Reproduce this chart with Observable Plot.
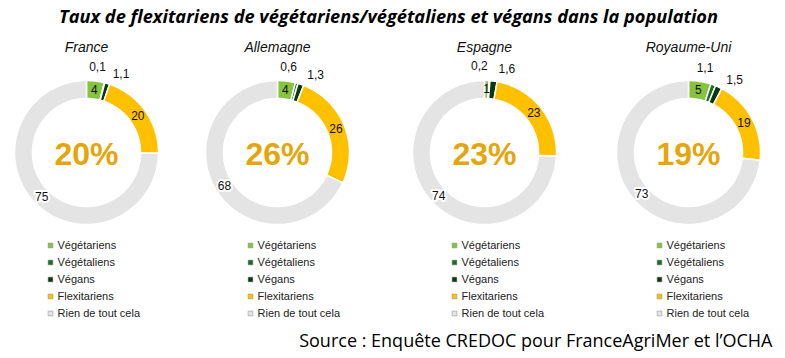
<!DOCTYPE html>
<html><head><meta charset="utf-8">
<script src="https://cdn.jsdelivr.net/npm/d3@7"></script>
<script src="https://cdn.jsdelivr.net/npm/@observablehq/plot@0.6"></script>
<style>body{margin:0;background:#fff;} #chart svg{display:block;}</style>
</head><body><div id="chart"></div>
<script>
// ---- data ----
const countries = ["France", "Allemagne", "Espagne", "Royaume-Uni"];
const categories = ["Végétariens", "Végétaliens", "Végans", "Flexitariens", "Rien de tout cela"];
const vegetariens = [4, 4, 1, 5];
const vegetaliens = [0.1, 0.6, 0.2, 1.1];
const vegans = [1.1, 1.3, 1.6, 1.5];
const flexitariens = [20, 26, 23, 19];
const rien = [75, 68, 74, 73];
const titleText = "Taux de flexitariens de végétariens/végétaliens et végans dans la population";
const sourceText = "Source : Enquête CREDOC pour FranceAgriMer et l\u2019OCHA";

// ---- layout / style ----
const W = 785, H = 358;
const centersX = [86, 277, 484, 688];
const legendX = [57, 257, 461, 666];
const cy = 152, rOut = 72, rIn = 54, rMid = 63, rOutLabel = 86;
const colors = ["#86c440", "#1f6a2a", "#0b3812", "#ffc000", "#e4e4e4"];
const series = [vegetariens, vegetaliens, vegans, flexitariens, rien];
const fmt = v => String(v).replace(".", ",");

const rad = d => d * Math.PI / 180;
const px = (cx, r, a) => cx + r * Math.sin(rad(a));
const py = (r, a) => cy - r * Math.cos(rad(a));

const polys = [], labels = [];
countries.forEach((c, i) => {
  const total = series.reduce((s, arr) => s + arr[i], 0);
  let acc = 0;
  categories.forEach((cat, k) => {
    const v = series[k][i];
    const a0 = acc / total * 360, a1 = (acc + v) / total * 360;
    acc += v;
    const n = Math.max(2, Math.ceil((a1 - a0) / 2));
    const key = c + "|" + cat;
    for (let j = 0; j <= n; j++) { const a = a0 + (a1 - a0) * j / n; polys.push({key, color: colors[k], x: px(centersX[i], rOut, a), y: py(rOut, a)}); }
    for (let j = n; j >= 0; j--) { const a = a0 + (a1 - a0) * j / n; polys.push({key, color: colors[k], x: px(centersX[i], rIn, a), y: py(rIn, a)}); }
    let r = rMid, a = (a0 + a1) / 2;
    if (k === 1) { r = rOutLabel; a = a0 - 7; }
    if (k === 2) { r = rOutLabel; a = a1 + 5; }
    labels.push({x: px(centersX[i], r, a), y: py(r, a), text: fmt(v), halo: k === 4});
  });
});

const centerText = countries.map((c, i) => ({x: centersX[i], y: cy + 2, text: flexitariens[i] + "%"}));
const countryTitles = countries.map((c, i) => ({x: centersX[i], y: 47, text: c}));
const legendRows = [];
countries.forEach((c, i) => categories.forEach((cat, k) => legendRows.push({x: legendX[i], y: 245 + k * 17, text: cat, color: colors[k]})));

const chart = Plot.plot({
  width: W, height: H, margin: 0,
  x: {domain: [0, W], range: [0, W], axis: null},
  y: {domain: [0, H], range: [0, H], axis: null},
  color: {type: "identity"},
  style: {fontFamily: "'Liberation Sans', Arial, sans-serif", background: "#fff"},
  marks: [
    Plot.line(polys, {x: "x", y: "y", z: "key", fill: "color", stroke: "#fff", strokeWidth: 1.5, curve: "linear-closed"}),
    Plot.text(labels.filter(d => d.halo), {x: "x", y: "y", text: "text", fontSize: 12, fill: "#111", stroke: "#fff", strokeWidth: 4}),
    Plot.text(labels.filter(d => !d.halo), {x: "x", y: "y", text: "text", fontSize: 12, fill: "#111"}),
    Plot.text(centerText, {x: "x", y: "y", text: "text", fontSize: 32, fontWeight: "bold", fill: "#e6a50a"}),
    Plot.text(countryTitles, {x: "x", y: "y", text: "text", fontSize: 14, fontStyle: "italic", fill: "#111"}),
    Plot.dot(legendRows, {x: d => d.x - 7, y: "y", symbol: "square", r: 2.7, fill: "color", stroke: "#888", strokeWidth: 0.5}),
    Plot.text(legendRows, {x: "x", y: "y", text: "text", fontSize: 11, textAnchor: "start", fill: "#222"}),
    Plot.text([titleText], {x: 388, y: 17, text: d => d, fontSize: 18.2, fontWeight: "bold", fontStyle: "italic", fontFamily: "'Open Sans', sans-serif", fill: "#000"}),
    Plot.text([sourceText], {x: 772, y: 341, text: d => d, textAnchor: "end", fontSize: 18, fontFamily: "'Open Sans', sans-serif", fill: "#000"})
  ]
});
document.getElementById("chart").appendChild(chart);
</script>
</body></html>
